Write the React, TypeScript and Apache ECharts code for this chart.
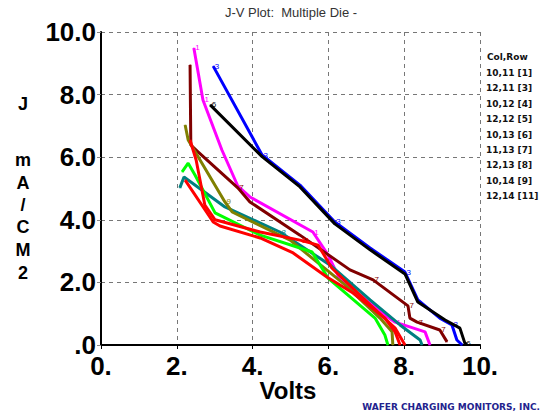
import React, { useEffect, useRef } from "react";
import * as echarts from "echarts";

const titleText = "J-V Plot:  Multiple Die -";
const xAxisTitle = "Volts";
const yNameChars = ["J", "m", "A", "/", "C", "M", "2"];
const legendHeader = "Col,Row";
const legendItems = [
  "10,11 [1]",
  "12,11 [3]",
  "10,12 [4]",
  "12,12 [5]",
  "10,13 [6]",
  "11,13 [7]",
  "12,13 [8]",
  "10,14 [9]",
  "12,14 [11]",
];
const footerText = "WAFER CHARGING MONITORS, INC.";

const seriesNames = ["12,11", "10,13", "10,11", "11,13", "12,13", "10,14", "10,12", "12,14", "12,12"];
const seriesTags = ["3", "6", "1", "7", "8", "9", "4", "11", "5"];
const seriesColors = ["#0000ff", "#000000", "#ff00ff", "#800000", "#008080", "#808000", "#00ff00", "#ff0000", "#ff0000"];
// which points of each series carry its marker digit
const tagPoints = [[0, 1, 3, 5, 8], [0, 9], [0, 1, 5, 10], [3, 7, 8, 10, 11], [3], [2], [], [5], []];

const blueData = [
  [2.96, 8.91], [4.25, 6.07], [5.25, 5.11], [6.17, 3.93], [7.1, 3.1], [8.02, 2.33],
  [8.36, 1.44], [8.94, 0.86], [9.26, 0.64], [9.39, 0.16], [9.53, 0.0],
];
const blackData = [
  [2.88, 7.67], [4.25, 6.02], [5.25, 5.05], [6.17, 3.87], [7.1, 3.04], [8.02, 2.27],
  [8.36, 1.37], [9.08, 0.8], [9.47, 0.54], [9.6, 0.06], [9.65, 0.02],
];
const magentaData = [
  [2.45, 9.49], [2.69, 7.83], [3.19, 6.23], [3.61, 5.08], [3.93, 4.73], [5.59, 3.61],
  [5.99, 2.88], [6.31, 2.08], [6.57, 1.85], [7.49, 0.96], [7.76, 0.73], [8.55, 0.42], [8.68, 0.0],
];
const maroonData = [
  [2.35, 8.95], [2.37, 6.39], [2.56, 6.17], [3.61, 5.02], [3.93, 4.57], [5.25, 3.51],
  [6.57, 2.4], [7.18, 2.08], [8.1, 1.25], [8.15, 0.86], [8.34, 0.73], [8.94, 0.48], [9.13, 0.1],
];
const tealData = [
  [2.08, 5.02], [2.19, 5.37], [3.27, 4.41], [4.72, 3.61], [6.04, 2.56], [7.1, 1.44],
  [7.89, 0.64], [8.42, 0.16], [8.47, 0.0],
];
const oliveData = [
  [2.22, 7.03], [2.3, 6.55], [3.27, 4.57], [3.46, 4.25], [4.99, 3.35], [6.44, 1.92],
  [7.36, 0.86], [7.68, 0.42], [7.7, 0.0],
];
const limeData = [
  [2.14, 5.53], [2.3, 5.81], [2.48, 5.43], [3.01, 4.22], [4.2, 3.51], [5.25, 3.1],
  [5.57, 2.97], [5.99, 2.14], [7.23, 0.86], [7.49, 0.32], [7.57, 0.0],
];
const red2Data = [
  [2.35, 6.55], [2.51, 5.91], [2.74, 4.47], [3.01, 4.0], [4.2, 3.61], [5.25, 3.35],
  [5.73, 3.19], [6.09, 2.46], [7.1, 1.28], [7.76, 0.54], [8.02, 0.0],
];
const redData = [
  [2.22, 5.27], [2.96, 3.93], [3.14, 3.8], [4.2, 3.42], [5.07, 2.94], [5.96, 2.17],
  [6.65, 1.66], [7.49, 0.86], [7.76, 0.42], [7.89, 0.0],
];
const seriesData = [blueData, blackData, magentaData, maroonData, tealData, oliveData, limeData, red2Data, redData];

const FONT = "'Liberation Sans', Arial, sans-serif";
const WIDE = "'DejaVu Sans', sans-serif";

export default function App() {
  const ref = useRef<HTMLDivElement>(null);
  useEffect(() => {
    if (!ref.current) return;
    const chart = echarts.init(ref.current, null, { renderer: "svg" });
    const graphics: any[] = [
      {
        type: "text",
        style: {
          text: titleText,
          x: 291,
          y: 12,
          align: "center",
          verticalAlign: "middle",
          fontSize: 13,
          fontFamily: FONT,
          fill: "#333",
        },
      },
    ];
    const yNameY = [104, 160, 183, 205, 227, 250, 273];
    yNameChars.forEach((c, i) => {
      graphics.push({
        type: "text",
        style: {
          text: c,
          x: 23,
          y: yNameY[i],
          align: "center",
          verticalAlign: "middle",
          fontSize: 18,
          fontWeight: "bold",
          fontFamily: FONT,
          fill: "#000",
        },
      });
    });
    graphics.push({
      type: "text",
      style: {
        text: legendHeader,
        x: 487,
        y: 57,
        verticalAlign: "middle",
        fontSize: 9,
        fontWeight: "bold",
        fontFamily: WIDE,
        fill: "#111",
      },
    });
    legendItems.forEach((t, i) => {
      graphics.push({
        type: "text",
        style: {
          text: t,
          x: 486,
          y: 73 + i * 15.4,
          verticalAlign: "middle",
          fontSize: 9,
          fontWeight: "bold",
          fontFamily: WIDE,
          fill: "#111",
        },
      });
    });
    graphics.push({
      type: "text",
      style: {
        text: footerText,
        x: 540,
        y: 407,
        align: "right",
        verticalAlign: "middle",
        fontSize: 9,
        fontWeight: "bold",
        fontFamily: WIDE,
        fill: "#23238e",
      },
    });
    graphics.push({
      type: "text",
      style: {
        text: xAxisTitle,
        x: 288,
        y: 390,
        align: "center",
        verticalAlign: "middle",
        fontSize: 24,
        fontWeight: "bold",
        fontFamily: FONT,
        fill: "#000",
      },
    });

    chart.setOption({
      animation: false,
      grid: { left: 101, right: 62, top: 32, bottom: 72 },
      xAxis: {
        type: "value",
        min: 0,
        max: 10,
        interval: 2,
        axisLine: { show: true, onZero: false, lineStyle: { color: "#000", width: 2 } },
        axisTick: { show: true, length: 4, lineStyle: { color: "#000" } },
        axisLabel: {
          fontSize: 26,
          fontWeight: "bold",
          fontFamily: FONT,
          color: "#000",
          margin: 8,
          formatter: (v: number) => `${v}.`,
        },
        splitLine: { show: true, lineStyle: { color: "#777", type: [4, 4], width: 1 } },
      },
      yAxis: [
        {
          type: "value",
          min: 0,
          max: 10,
          interval: 2,
          axisLine: { show: true, onZero: false, lineStyle: { color: "#888", width: 1 } },
          axisTick: { show: true, length: 4, lineStyle: { color: "#888" } },
          axisLabel: {
            fontSize: 26,
            fontWeight: "bold",
            fontFamily: FONT,
            color: "#000",
            margin: 5,
            formatter: (v: number) => (v === 0 ? ".0" : v.toFixed(1)),
          },
          splitLine: { show: true, lineStyle: { color: "#777", type: [4, 4], width: 1 } },
        },
        {
          type: "value",
          min: 0,
          max: 10,
          position: "right",
          axisLine: { show: true, lineStyle: { color: "#000", width: 2 } },
          axisTick: { show: false },
          axisLabel: { show: false },
          splitLine: { show: false },
        },
      ],
      series: seriesData.map((d, i) => ({
        type: "line",
        name: seriesNames[i],
        data: d.map((p, j) => ({
          value: p,
          label: { show: tagPoints[i].includes(j) },
        })),
        showSymbol: true,
        symbol: "circle",
        symbolSize: 1,
        lineStyle: { color: seriesColors[i], width: 3 },
        itemStyle: { color: seriesColors[i] },
        label: {
          show: false,
          position: "right",
          distance: 1,
          fontSize: 8,
          fontFamily: FONT,
          color: seriesColors[i],
          formatter: () => seriesTags[i],
        },
        labelLayout: { hideOverlap: false },
        z: 2 + i,
      })),
      graphic: graphics,
    });
    return () => chart.dispose();
  }, []);
  return (
    <div
      ref={ref}
      style={{ position: "fixed", left: 0, top: 0, width: 542, height: 417, background: "#fff" }}
    />
  );
}
